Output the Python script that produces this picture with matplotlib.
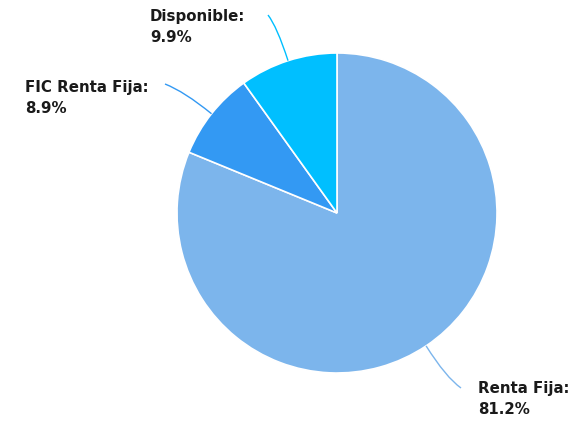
import numpy as np
import matplotlib.pyplot as plt
from matplotlib.path import Path
from matplotlib.patches import PathPatch

labels = ['Renta Fija', 'FIC Renta Fija', 'Disponible']
values = [81.2, 8.9, 9.9]
colors = ['#7cb5ec', '#3399f3', '#00bfff']

# label text position in pixels (left, top of caps; y measured from top)
text_pos = [(478, 381), (25, 80), (150, 9)]
# end of each connector, in pixels (y from top)
line_end = [(461, 388), (165, 84), (268, 15)]

W, H = 573, 424
cx, cy, r = 337, H - 213, 160

fig = plt.figure(figsize=(W / 100, H / 100), dpi=100)
ax = fig.add_axes([0, 0, 1, 1])

wedges, _ = ax.pie(values, colors=colors, startangle=90, counterclock=False,
                   center=(cx, cy), radius=r,
                   wedgeprops=dict(edgecolor='white', linewidth=1.2))
ax.set_xlim(0, W)
ax.set_ylim(0, H)
ax.set_aspect('equal')
ax.axis('off')

for w, lab, val, col, tp, le in zip(wedges, labels, values, colors, text_pos, line_end):
    mid = np.deg2rad((w.theta1 + w.theta2) / 2)
    x0, y0 = cx + r * np.cos(mid), cy + r * np.sin(mid)
    x1, y1 = le[0], H - le[1]
    # curved connector: leave the pie along the radius, then bend to the label
    kx = x0 + (x1 - x0) * 0.25 + 0.5 * (r * np.cos(mid)) * 0.25
    ky = y0 + (y1 - y0) * 0.75
    path = Path([(x0, y0), (kx, ky), (x1, y1)], [Path.MOVETO, Path.CURVE3, Path.CURVE3])
    ax.add_patch(PathPatch(path, fill=False, edgecolor=col, linewidth=1))
    ax.text(tp[0], H - tp[1], f'{lab}:\n{val}%', ha='left', va='top',
            fontsize=10.8, fontweight='bold', color='#1a1a1a', linespacing=1.5)

fig.savefig('out.png', dpi=100)
